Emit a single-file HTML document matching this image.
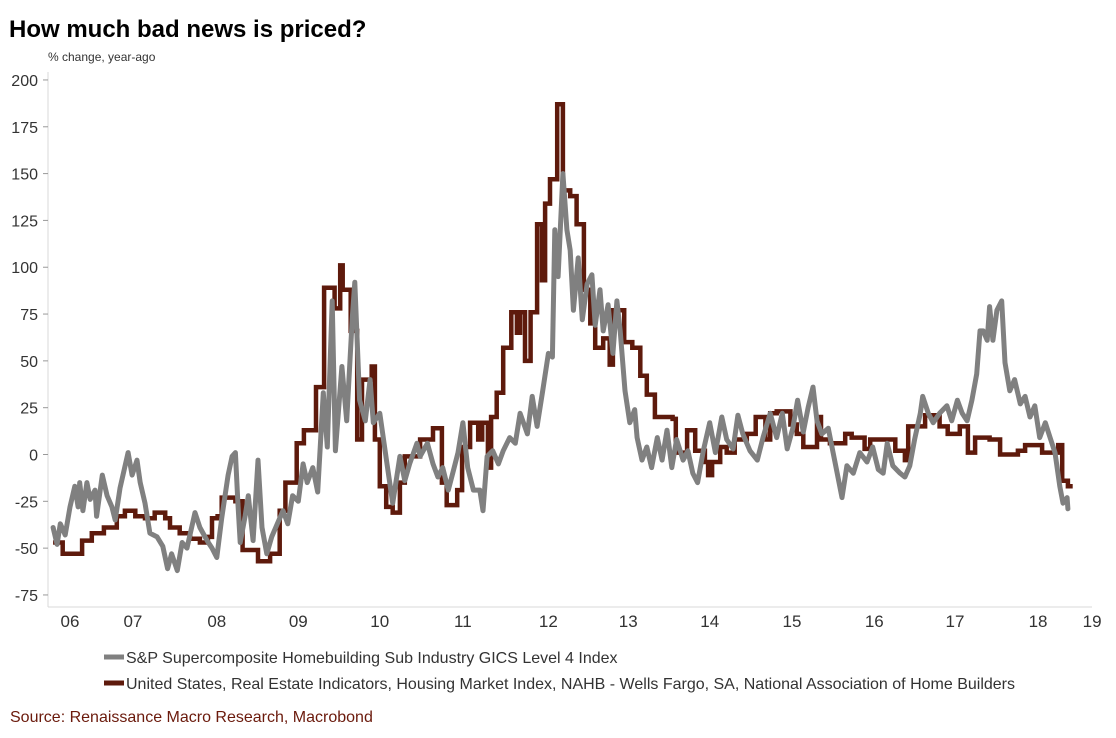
<!DOCTYPE html>
<html><head><meta charset="utf-8"><style>
body{margin:0;background:#fff;width:1116px;height:738px;overflow:hidden;font-family:"Liberation Sans",sans-serif}
svg{display:block}
</style></head><body>
<svg id="chart" width="1116" height="738" xmlns="http://www.w3.org/2000/svg">
<text x="9" y="37" font-size="24" font-weight="bold" fill="#000">How much bad news is priced?</text>
<text x="48" y="61" font-size="12" fill="#333">% change, year-ago</text>
<g id="axes"></g>
<g id="series"></g>
<g>
<line x1="104" y1="657" x2="124" y2="657" stroke="#808080" stroke-width="5"/>
<text x="126" y="663" font-size="16" fill="#333">S&amp;P Supercomposite Homebuilding Sub Industry GICS Level 4 Index</text>
<line x1="104" y1="683" x2="124" y2="683" stroke="#5e1a0c" stroke-width="5"/>
<text x="126" y="689" font-size="16" fill="#333">United States, Real Estate Indicators, Housing Market Index, NAHB - Wells Fargo, SA, National Association of Home Builders</text>
</g>
<text x="10" y="722" font-size="16" fill="#6b1a0c">Source: Renaissance Macro Research, Macrobond</text>
</svg>
<script>
const yTicks=[200,175,150,125,100,75,50,25,0,-25,-50,-75];
const yearLabels=["06","07","08","09","10","11","12","13","14","15","16","17","18","19"];
const labelDates=[2006.00,2006.78,2007.82,2008.83,2009.84,2010.87,2011.93,2012.92,2013.93,2014.95,2015.97,2016.97,2018.00,2018.67];
const redDates=[2005.79,2005.91,2006.15,2006.27,2006.42,2006.58,2006.68,2006.81,2006.93,2007.05,2007.18,2007.24,2007.36,2007.49,2007.61,2007.71,2007.76,2007.83,2007.88,2008.05,2008.14,2008.33,2008.48,2008.60,2008.67,2008.81,2008.90,2009.05,2009.15,2009.28,2009.35,2009.38,2009.48,2009.56,2009.62,2009.74,2009.78,2009.84,2009.92,2010.00,2010.09,2010.15,2010.34,2010.50,2010.61,2010.67,2010.80,2010.86,2010.96,2011.06,2011.11,2011.18,2011.22,2011.29,2011.37,2011.47,2011.54,2011.58,2011.64,2011.71,2011.79,2011.85,2011.89,2011.95,2012.04,2012.11,2012.20,2012.28,2012.37,2012.45,2012.51,2012.61,2012.69,2012.73,2012.87,2012.97,2013.07,2013.15,2013.25,2013.47,2013.51,2013.65,2013.75,2013.87,2013.91,2013.96,2014.06,2014.14,2014.24,2014.39,2014.50,2014.62,2014.68,2014.76,2014.93,2015.01,2015.09,2015.26,2015.31,2015.42,2015.61,2015.69,2015.85,2015.92,2016.23,2016.35,2016.39,2016.60,2016.78,2016.88,2017.03,2017.13,2017.22,2017.40,2017.53,2017.75,2017.84,2018.05,2018.25,2018.30,2018.37,2018.43];
const redValues=[-47,-53,-46,-42,-39,-33,-30,-33,-34,-31,-34,-39,-42,-45,-47,-44,-34,-33,-23,-25,-51,-57,-53,-30,-15,6,13,36,89,78,101,88,66,8,40,47,8,-17,-28,-31,-15,-1,8,14,-15,-27,-19,4,17,8,17,-7,20,33,57,76,65,76,50,76,123,93,134,147,187,141,138,123,88,70,57,62,48,77,60,57,42,32,20,19,1,13,2,-4,-11,-4,4,1,8,11,20,8,22,23,16,11,4,20,8,6,11,9,3,8,2,-3,15,21,15,11,15,1,9,8,0,2,5,1,5,-14,-17,-17];
const grayDates=[2005.79,2005.84,2005.88,2005.94,2006.00,2006.06,2006.10,2006.12,2006.16,2006.21,2006.25,2006.31,2006.33,2006.40,2006.46,2006.52,2006.56,2006.62,2006.72,2006.77,2006.83,2006.87,2006.93,2006.99,2007.08,2007.15,2007.21,2007.26,2007.33,2007.39,2007.45,2007.55,2007.61,2007.70,2007.76,2007.82,2007.88,2007.96,2008.01,2008.05,2008.08,2008.11,2008.17,2008.21,2008.27,2008.33,2008.38,2008.44,2008.50,2008.57,2008.64,2008.70,2008.76,2008.83,2008.89,2008.94,2009.01,2009.07,2009.14,2009.19,2009.25,2009.29,2009.37,2009.43,2009.50,2009.53,2009.59,2009.66,2009.72,2009.76,2009.84,2009.93,2010.00,2010.09,2010.15,2010.21,2010.30,2010.34,2010.43,2010.50,2010.56,2010.62,2010.69,2010.75,2010.81,2010.87,2010.93,2011.00,2011.08,2011.12,2011.17,2011.24,2011.31,2011.37,2011.45,2011.52,2011.58,2011.67,2011.73,2011.79,2011.86,2011.93,2011.98,2012.01,2012.05,2012.11,2012.16,2012.20,2012.24,2012.30,2012.35,2012.41,2012.47,2012.51,2012.57,2012.61,2012.67,2012.73,2012.78,2012.82,2012.88,2012.94,2013.00,2013.03,2013.09,2013.15,2013.21,2013.28,2013.34,2013.40,2013.46,2013.52,2013.60,2013.66,2013.72,2013.78,2013.85,2013.93,2014.00,2014.08,2014.14,2014.22,2014.28,2014.34,2014.43,2014.52,2014.59,2014.68,2014.76,2014.83,2014.89,2014.96,2015.02,2015.09,2015.15,2015.21,2015.26,2015.32,2015.40,2015.46,2015.51,2015.57,2015.63,2015.71,2015.79,2015.88,2015.95,2016.02,2016.08,2016.13,2016.20,2016.29,2016.35,2016.41,2016.47,2016.54,2016.57,2016.64,2016.70,2016.78,2016.87,2016.93,2017.00,2017.06,2017.12,2017.18,2017.24,2017.28,2017.32,2017.37,2017.40,2017.44,2017.49,2017.55,2017.59,2017.65,2017.71,2017.78,2017.84,2017.90,2017.96,2018.02,2018.09,2018.15,2018.21,2018.27,2018.31,2018.36,2018.37];
const grayValues=[-39,-48,-37,-43,-28,-17,-28,-15,-30,-15,-24,-19,-33,-11,-22,-28,-35,-18,1,-11,-3,-15,-26,-42,-44,-49,-61,-53,-62,-47,-50,-31,-39,-46,-50,-55,-34,-11,-1,1,-25,-47,-33,-22,-46,-3,-39,-53,-44,-37,-30,-37,-22,-25,-5,-15,-7,-20,33,4,82,2,47,18,73,92,29,18,40,17,22,-5,-26,-1,-14,-5,6,-1,6,-5,-12,-7,-19,-9,1,17,-7,-19,-19,-30,-1,2,-5,2,9,6,22,11,31,15,34,54,52,120,95,150,120,109,77,105,72,91,96,69,88,66,80,54,82,66,34,17,24,9,-3,4,-7,9,-3,13,-7,8,-3,2,-10,-15,2,17,1,20,8,3,21,11,2,-3,9,22,9,22,3,14,29,12,25,36,18,11,14,1,-10,-23,-6,-10,1,-4,4,-8,-10,6,-6,-10,-12,-6,8,22,31,22,17,22,26,18,29,22,18,29,43,66,66,61,79,61,77,82,49,34,40,27,31,20,26,9,17,9,1,-17,-26,-23,-29];

const NS="http://www.w3.org/2000/svg";
const X0=70, PXY=80.67, Y0=454.5, PXV=1.8727;
function xScale(t){return X0+(t-2006)*PXY;}
function yScale(v){return Y0-v*PXV;}
const axes=document.getElementById('axes');
const yAxis=document.createElementNS(NS,'line');


yAxis.setAttribute('x1',48);yAxis.setAttribute('x2',48);yAxis.setAttribute('y1',72);yAxis.setAttribute('y2',607);
yAxis.setAttribute('stroke','#d9d9d9');axes.appendChild(yAxis);
const xAxis=document.createElementNS(NS,'line');


xAxis.setAttribute('x1',48);xAxis.setAttribute('x2',1092);xAxis.setAttribute('y1',607);xAxis.setAttribute('y2',607);
xAxis.setAttribute('stroke','#d9d9d9');axes.appendChild(xAxis);
yTicks.forEach(v=>{
  const y=yScale(v);
  const tk=document.createElementNS(NS,'line');
  
  
  tk.setAttribute('x1',43);tk.setAttribute('x2',48);tk.setAttribute('y1',y);tk.setAttribute('y2',y);
  tk.setAttribute('stroke','#999');axes.appendChild(tk);
  const t=document.createElementNS(NS,'text');
  
  
  t.setAttribute('x',38);t.setAttribute('y',y+6);t.setAttribute('text-anchor','end');
  t.setAttribute('font-size','16');t.setAttribute('fill','#333');t.textContent=v;axes.appendChild(t);
});
yearLabels.forEach((lab,i)=>{
  const x=xScale(labelDates[i]);
  const t=document.createElementNS(NS,'text');
  
  
  t.setAttribute('x',x);t.setAttribute('y',627);t.setAttribute('text-anchor','middle');
  t.setAttribute('font-size','17');t.setAttribute('fill','#333');t.textContent=lab;axes.appendChild(t);
});
const series=document.getElementById('series');
let d='';
for(let i=0;i<redValues.length;i++){
  const x=xScale(redDates[i]).toFixed(1), y=yScale(redValues[i]).toFixed(1);
  if(i===0) d+='M'+x+','+y; else d+='H'+x+'V'+y;
}
const redPath=document.createElementNS(NS,'path');


redPath.setAttribute('d',d);redPath.setAttribute('fill','none');redPath.setAttribute('stroke','#5e1a0c');
redPath.setAttribute('stroke-width','4.5');redPath.setAttribute('stroke-linejoin','miter');
series.appendChild(redPath);
let g='';
grayValues.forEach((v,i)=>{g+=(i?'L':'M')+xScale(grayDates[i]).toFixed(1)+','+yScale(v).toFixed(1);});
const grayPath=document.createElementNS(NS,'path');


grayPath.setAttribute('d',g);grayPath.setAttribute('fill','none');grayPath.setAttribute('stroke','#808080');
grayPath.setAttribute('stroke-width','5');grayPath.setAttribute('stroke-linejoin','round');grayPath.setAttribute('stroke-linecap','round');
series.appendChild(grayPath);
</script>
</body></html>
